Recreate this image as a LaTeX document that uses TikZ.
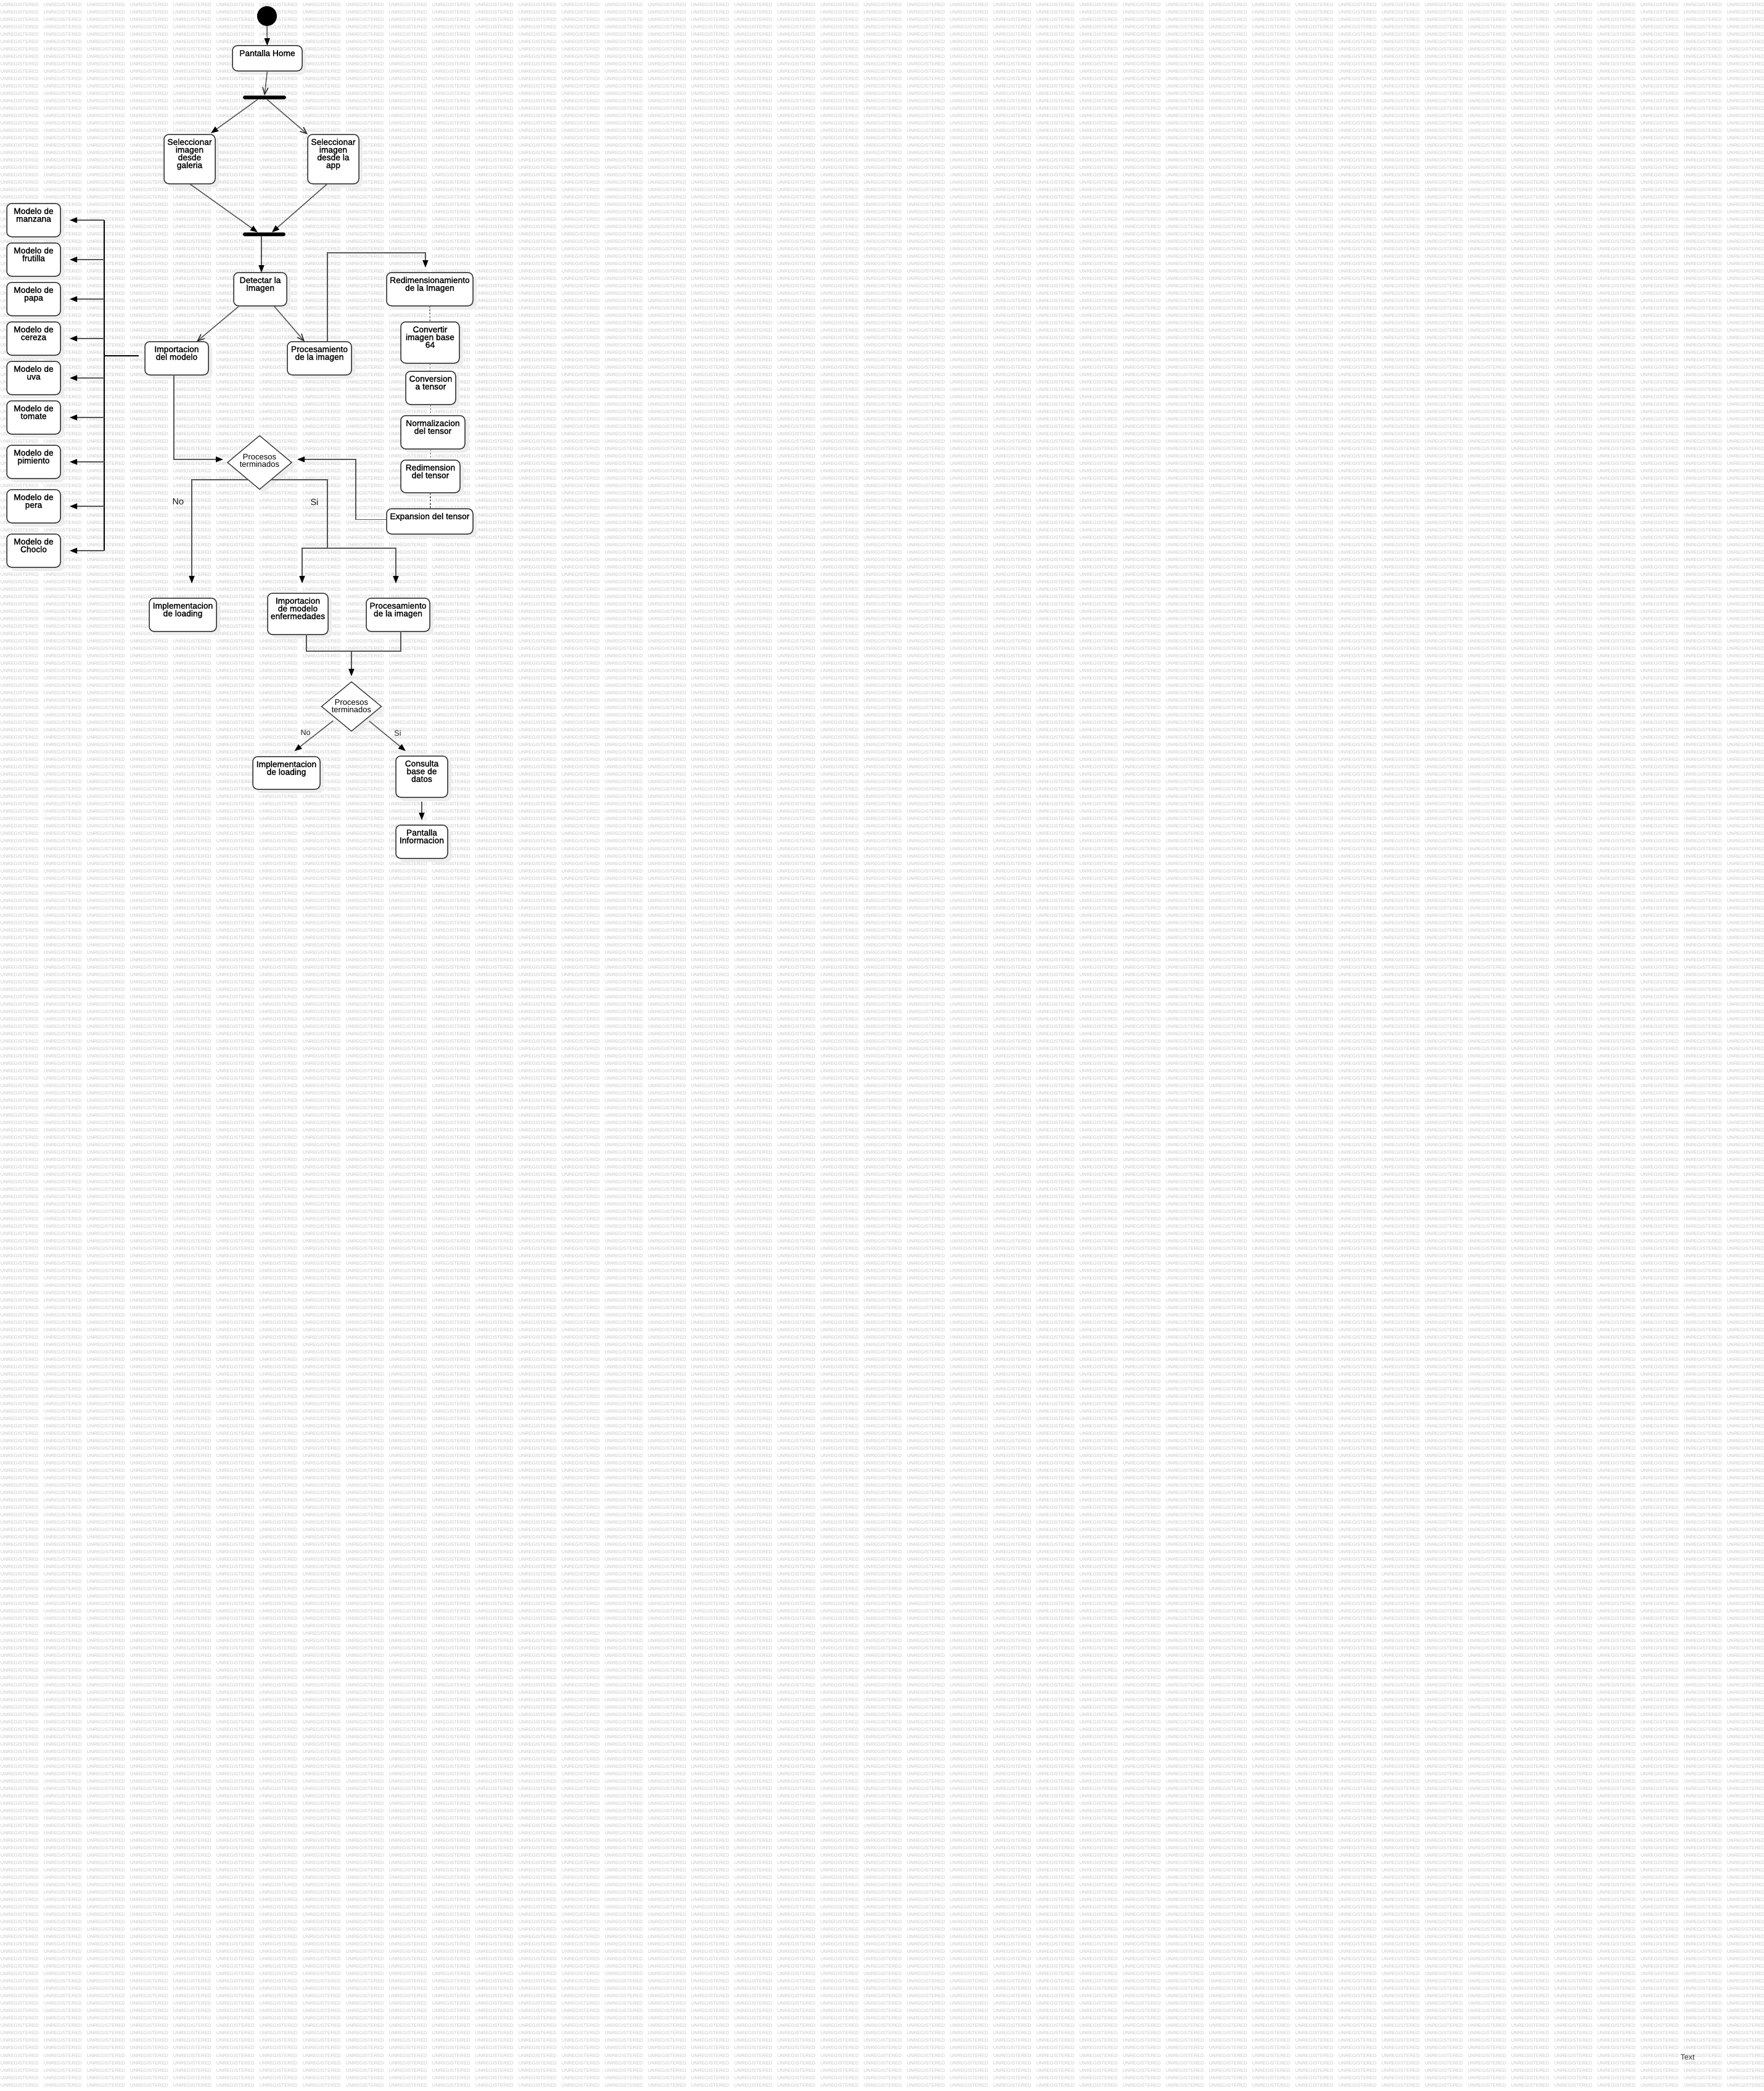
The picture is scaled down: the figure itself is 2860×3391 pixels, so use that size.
\documentclass[tikz,border=0pt]{standalone}
\usepackage{fontspec}
\setmainfont{Liberation Sans}
\newfontfamily\wmfont{Liberation Sans}
\newfontfamily\boxfont[FakeBold=1.6]{Liberation Sans}
\usetikzlibrary{arrows.meta,shapes.geometric,shadows,calc}
\definecolor{wmgray}{RGB}{200,200,200}
\definecolor{lngray}{RGB}{85,85,85}
\newcommand\wmw{\makebox[70pt][l]{UNREGISTERED}}
\newcommand\wmten{\wmw\wmw\wmw\wmw\wmw\wmw\wmw\wmw\wmw\wmw}
\newcommand\wmrow{\wmten\wmten\wmten\wmten\wmw}
\newcommand\boxtxt[3]{\parbox[c][#2pt][t]{#1pt}{\centering\boxfont\fontsize{13.8}{12.5}\selectfont\lineskiplimit=-100pt\lineskip=0pt\rule{0pt}{17pt}#3\par}}
\begin{document}
\begin{tikzpicture}[x=1pt,y=-1pt,
 wm/.style={anchor=base west, inner sep=0pt, font=\wmfont\fontsize{7.8}{8}\selectfont, text=wmgray},
 act/.style={draw=black!80, line width=1.5pt, rounded corners=8pt, fill=white, inner sep=0pt, outer sep=0pt, drop shadow={shadow xshift=6pt, shadow yshift=-6pt, fill=black!7, opacity=1}},
 dec/.style={diamond, draw=black!80, line width=1.3pt, fill=white, inner sep=0pt, outer sep=0pt, drop shadow={shadow xshift=6pt, shadow yshift=-6pt, fill=black!7, opacity=1}},
 bar/.style={fill=black, rounded corners=3pt, inner sep=0pt, minimum width=70pt, minimum height=6pt},
 conn/.style={draw=lngray, line width=1.5pt},
 arrF/.style={conn, -{Triangle[length=12pt,width=9pt,color=black]}},
 arrO/.style={conn, -{Straight Barb[length=11pt,width=9pt,color=black!85]}},
 busl/.style={draw=black, line width=2.2pt},
 dotl/.style={draw=black!60, line width=1.5pt, dash pattern=on 3pt off 2.5pt},
 dtxt/.style={align=center, inner sep=0pt, font=\fontsize{13}{12}\selectfont, text=black},
 lbl/.style={inner sep=0pt, font=\fontsize{14.5}{16}\selectfont, text=black!90},
 lbl2/.style={inner sep=0pt, font=\fontsize{12.5}{14}\selectfont, text=black!90}
]
\useasboundingbox (0,0) rectangle (2860,3391);
\fill[white] (0,0) rectangle (2860,3391);
\begin{scope}
\clip (0,0) rectangle (2860,3391);
\foreach \i in {0,...,281}{
  \node[wm] (wm\i) at (0.7,{10.3+12.006*\i}) {\wmrow};
}
\end{scope}

% nodes
\node[circle, fill=black, inner sep=0pt, minimum size=32pt] (init) at (433,26) {};
\node[act] (home) at (433.5,94.5) {\boxtxt{113}{41}{Pantalla Home}};
\node[bar] (fork1) at (429,158) {};
\node[act] (gal) at (307.5,258) {\boxtxt{83}{80}{Seleccionar\\imagen\\desde\\galeria}};
\node[act] (app) at (540.5,258) {\boxtxt{83}{80}{Seleccionar\\imagen\\desde la\\app}};
\node[bar, minimum width=69pt] (join) at (428.5,380) {};
\node[act] (det) at (422,469) {\boxtxt{86}{54}{Detectar la\\Imagen}};
\node[act] (redim) at (697,469) {\boxtxt{140}{54}{Redimensionamiento\\de la Imagen}};
\node[act] (imp) at (286.5,581) {\boxtxt{103}{54}{Importacion\\del modelo}};
\node[act] (proc) at (518,581) {\boxtxt{104}{54}{Procesamiento\\de la imagen}};
\node[act] (conv64) at (697.5,555.5) {\boxtxt{95}{67}{Convertir\\imagen base\\64}};
\node[act] (convt) at (698.5,629) {\boxtxt{81}{54}{Conversion\\a tensor}};
\node[act] (norm) at (702,701) {\boxtxt{104}{54}{Normalizacion\\del tensor}};
\node[act] (redt) at (698,772.5) {\boxtxt{96}{53}{Redimension\\del tensor}};
\node[act] (exp) at (697,845.5) {\boxtxt{140}{41}{Expansion del tensor}};
\foreach \n/\y/\t in {man/357/manzana, fru/421/frutilla, pap/485/papa, cer/549/cereza, uva/613/uva, tom/677/tomate, pim/749/pimiento, per/821/pera, cho/893/Choclo}{
  \node[act] (\n) at (54.5,\y) {\boxtxt{87}{54}{Modelo de\\\t}};
}
\node[dec, minimum width=104pt, minimum height=87pt] (d1) at (421,750) {};
\node[dtxt] (d1t) at (421,746.6) {Procesos\\terminados};
\node[act] (load1) at (296.5,997) {\boxtxt{109}{54}{Implementacion\\de loading}};
\node[act] (impenf) at (483,995.5) {\boxtxt{98}{67}{Importacion\\de modelo\\enfermedades}};
\node[act] (proc2) at (645.5,997) {\boxtxt{103}{54}{Procesamiento\\de la imagen}};
\node[dec, minimum width=97pt, minimum height=80pt] (d2) at (570,1145.7) {};
\node[dtxt] (d2t) at (570,1145.1) {Procesos\\terminados};
\node[act] (load2) at (464.5,1253.5) {\boxtxt{109}{53}{Implementacion\\de loading}};
\node[act] (cons) at (684,1259.5) {\boxtxt{84}{67}{Consulta\\base de\\datos}};
\node[act] (info) at (684,1365) {\boxtxt{84}{54}{Pantalla\\Informacion}};

% labels
\node[lbl] (no1) at (289,814) {No};
\node[lbl] (si1) at (510,814) {Si};
\node[lbl2] (no2) at (495.7,1188) {No};
\node[lbl2] (si2) at (645,1189) {Si};
\node[inner sep=0pt, font=\fontsize{12.5}{14}\selectfont, text=black!80] (txt) at (2737,3336) {Text};

% connectors
\draw[arrF] (init) -- (home);
\draw[arrO] (home.south) -- (fork1.north);
\draw[arrF] ($(fork1.south)+(-11,0)$) -- ($(gal.north east)+(-7,-2)$);
\draw[arrO] ($(fork1.south)+(4,0)$) -- (app.north west);
\draw[arrF] (gal.south) -- ($(join.north)+(-10.5,0)$);
\draw[arrF] ($(app.south)+(-9.5,0)$) -- ($(join.north)+(12.5,0)$);
\draw[arrF] ($(join.south)+(-4.5,0)$) -- ($(det.north)+(2,0)$);
\draw[arrO] ($(det.south west)+(8,1)$) -- ($(imp.north east)+(-19,0)$);
\draw[arrO] ($(det.south east)+(-20,1)$) -- ($(proc.north west)+(28,0)$);
\draw[arrF, shorten >=8pt] ($(proc.north)+(13,0)$) -- ++(0,-144) -| ($(redim.north)+(-7,0)$);

\coordinate (busj) at (169,577);
\draw[busl, shorten <=10pt] ($(imp.west)+(0,-4)$) -- (busj);
\draw[busl] (busj |- man.east) -- (busj |- cho.east);
\foreach \n in {man,fru,pap,cer,uva,tom,pim,per,cho}{
  \draw[arrF, shorten >=15pt] (busj |- \n.east) -- (\n.east);
}

\draw[dotl] (redim.south) -- (conv64.north);
\draw[dotl] (conv64.south) -- (conv64.south |- convt.north);
\draw[dotl] (convt.south) -- (convt.south |- norm.north);
\draw[dotl] (convt.south |- norm.south) -- (convt.south |- redt.north);
\draw[dotl] (redt.south) -- (redt.south |- exp.north);

\draw[arrF, shorten >=7pt] ($(imp.south)+(-4.5,0)$) |- ($(d1.west)+(0,-5)$);
\draw[arrF, shorten >=9pt] ($(exp.west)+(0,-3)$) -- ++(-50,0) |- ($(d1.east)+(0,-5)$);

\coordinate (d1n) at ($(d1.west)!0.64!(d1.south)$);
\coordinate (d1s) at ($(d1.east)!0.64!(d1.south)$);
\draw[arrF, shorten >=24pt] (d1n) -| ($(load1.north)+(14.5,0)$);
\coordinate (sij) at (531,889);
\draw[conn] (d1s) -| (sij);
\draw[arrF, shorten >=16pt] (sij) -| ($(impenf.north)+(7,0)$);
\draw[arrF, shorten >=24pt] (sij) -| ($(proc2.north)+(-3.5,0)$);

\coordinate (mj) at (570,1056);
\draw[conn] ($(impenf.south)+(14,0)$) |- ($(proc2.south)+(4.5,32)$) -- ($(proc2.south)+(4.5,0)$);
\draw[arrF, shorten >=9pt] (mj) -- (d2.north);
\draw[arrF, shorten <=6pt] (d2) -- ($(load2.north)+(13,-9)$);
\draw[arrF, shorten <=6pt] (d2) -- ($(cons.north west)+(16,-8)$);
\draw[arrF, shorten <=7pt, shorten >=8pt] (cons.south) -- (info.north);
\end{tikzpicture}
\end{document}
